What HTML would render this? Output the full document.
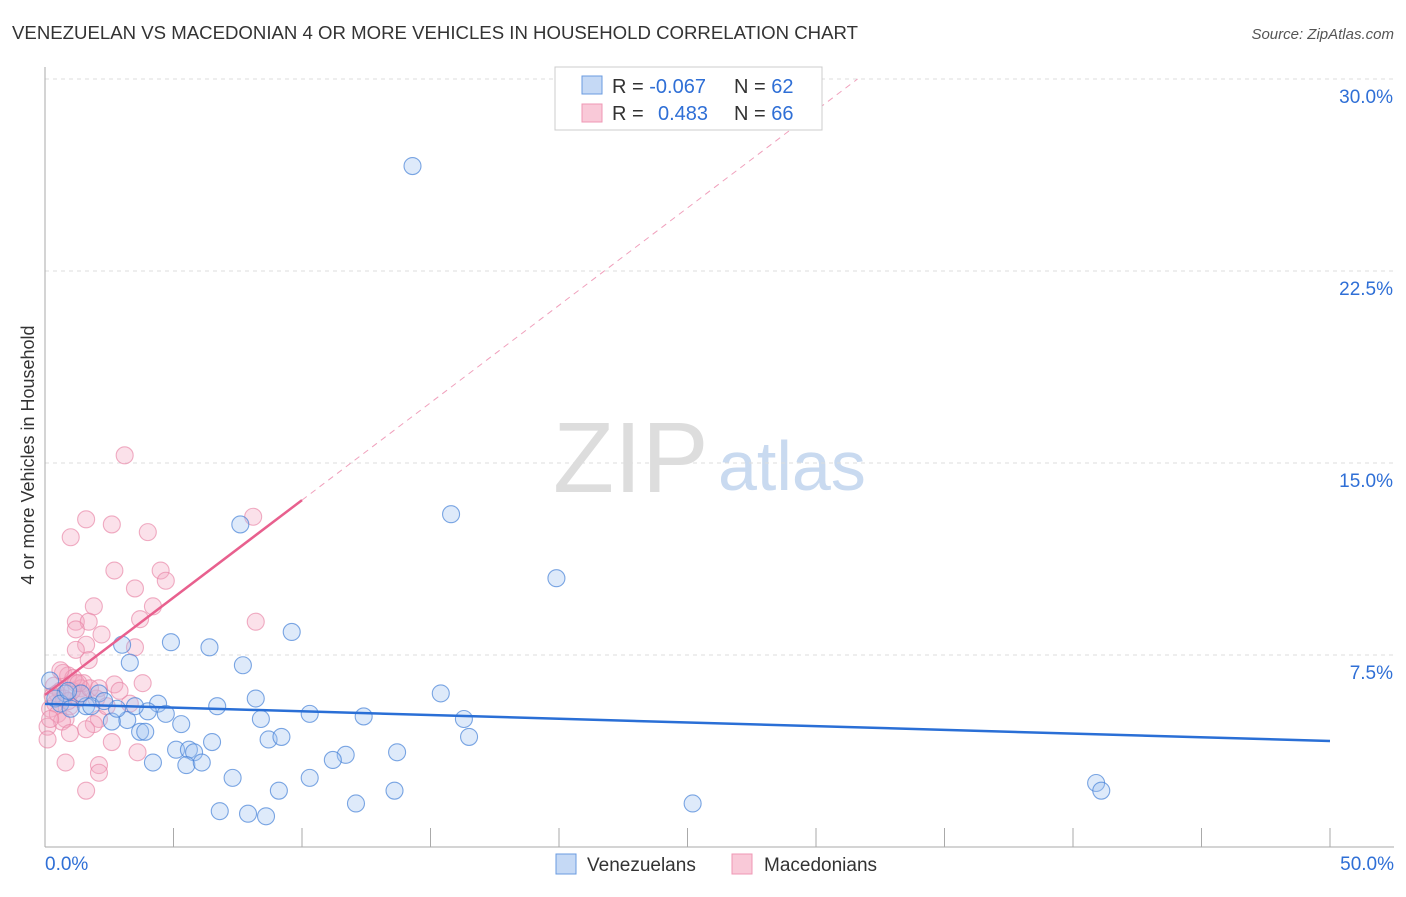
<!DOCTYPE html>
<html><head><meta charset="utf-8"><style>
body{margin:0;background:#fff;font-family:"Liberation Sans",sans-serif;}
svg text{font-family:"Liberation Sans",sans-serif;}
</style></head><body>
<svg id="chart" width="1406" height="892">
<text x="12" y="39" font-size="18" fill="#333" textLength="846" lengthAdjust="spacingAndGlyphs">VENEZUELAN VS MACEDONIAN 4 OR MORE VEHICLES IN HOUSEHOLD CORRELATION CHART</text>
<text x="1394" y="39" font-size="15" fill="#555" font-style="italic" text-anchor="end">Source: ZipAtlas.com</text>
<g><text x="553" y="492" font-size="100" fill="#ddd" font-family="Liberation Serif">ZIP</text><text x="718" y="490" font-size="70" fill="#c9daf0">atlas</text></g>
<g id="grid"></g><g id="axes"></g><g id="pts"></g><g id="lines"></g>
<text transform="translate(34,455) rotate(-90)" font-size="18" fill="#333" text-anchor="middle">4 or more Vehicles in Household</text>
<g>
<rect x="555" y="67" width="267" height="63" fill="#fff" stroke="#ccc"/>
<rect x="582" y="76" width="20" height="18" fill="#c5d9f5" stroke="#6a9be0"/>
<rect x="582" y="104" width="20" height="18" fill="#f9c9d8" stroke="#ef97b4"/>
<text x="612" y="93" font-size="20" fill="#333">R = <tspan fill="#2f6fd6">-0.067</tspan><tspan x="734">N = </tspan><tspan fill="#2f6fd6">62</tspan></text>
<text x="612" y="120" font-size="20" fill="#333">R = <tspan x="658" fill="#2f6fd6">0.483</tspan><tspan x="734">N = </tspan><tspan fill="#2f6fd6">66</tspan></text>
</g>
<g>
<rect x="556" y="854" width="20" height="20" fill="#c5d9f5" stroke="#6a9be0"/>
<text x="587" y="871" font-size="19" fill="#333">Venezuelans</text>
<rect x="732" y="854" width="20" height="20" fill="#f9c9d8" stroke="#ef97b4"/>
<text x="764" y="871" font-size="19" fill="#333">Macedonians</text>
</g>
</svg>
<script>
const yTicks=[7.5,15,22.5,30];
const yTickLabels=["7.5%","15.0%","22.5%","30.0%"];
const xTickLabels=["0.0%","50.0%"];
const venX=[14.3,15.8,19.9,7.6,9.6,4.9,6.4,3.0,3.3,7.7,15.4,2.1,4.4,6.7,8.2,10.3,12.4,16.3,8.4,4.7,4.0,3.2,2.6,5.3,3.7,3.9,16.5,6.5,8.7,9.2,5.1,5.6,5.8,11.7,13.7,11.2,4.2,5.5,6.1,7.3,10.3,9.1,13.6,12.1,6.8,7.9,8.6,25.2,40.9,41.1,0.8,0.4,0.6,1.0,1.6,0.2,1.4,1.8,2.8,3.5,2.3,0.9];
const venY=[26.6,13.0,10.5,12.6,8.4,8.0,7.8,7.9,7.2,7.1,6.0,6.0,5.6,5.5,5.8,5.2,5.1,5.0,5.0,5.2,5.3,4.96,4.9,4.8,4.5,4.5,4.3,4.1,4.2,4.3,3.8,3.8,3.7,3.6,3.7,3.4,3.3,3.2,3.3,2.7,2.7,2.2,2.2,1.7,1.4,1.3,1.2,1.7,2.5,2.2,6.0,5.8,5.6,5.4,5.5,6.5,6.0,5.5,5.4,5.5,5.7,6.1];
const macX=[3.1,1.6,2.6,4.0,1.0,8.1,2.7,4.5,4.7,3.5,1.9,4.2,3.7,1.2,1.7,1.2,8.2,2.2,1.6,3.5,1.2,1.7,0.7,0.9,1.5,2.7,3.8,0.35,0.6,1.2,1.4,2.0,0.4,0.97,3.3,0.2,0.5,0.8,0.66,0.1,2.1,1.9,0.97,2.6,0.1,3.6,0.8,2.1,2.1,1.6,0.47,0.74,1.3,1.4,1.05,1.75,0.3,0.9,2.1,2.9,1.1,0.2,1.3,0.6,2.4,1.6];
const macY=[15.3,12.8,12.6,12.3,12.1,12.9,10.8,10.8,10.4,10.1,9.4,9.4,8.9,8.8,8.8,8.5,8.8,8.3,7.9,7.8,7.7,7.3,6.8,6.7,6.4,6.35,6.4,6.3,6.1,6.4,6.2,5.8,5.6,5.5,5.6,5.4,5.2,5.0,4.9,4.7,5.0,4.8,4.45,4.1,4.2,3.7,3.3,3.2,2.9,2.2,6.0,5.8,5.8,6.0,6.1,6.2,5.9,5.7,6.2,6.1,6.6,5.0,6.4,6.9,5.5,4.6];
const venLine=[5.59,4.14];
const macLine=[5.94,13.55];
const X=v=>45+v*25.7, Y=v=>847-v*25.6;
const NS="http://www.w3.org/2000/svg";
function mk(tag,parent,attrs){const e=document.createElementNS(NS,tag);for(const k in attrs)e.setAttribute(k,attrs[k]);document.getElementById(parent).appendChild(e);return e;}
yTicks.forEach((t,i)=>{
 const g=mk('line','grid',{x1:45,x2:1394,y1:Y(t),y2:Y(t),stroke:'#ddd','stroke-dasharray':'4,4'});
 
 
 const l=mk('text','axes',{x:1393,y:Y(t)+24,'font-size':19,fill:'#2f6fd6','text-anchor':'end'});l.textContent=yTickLabels[i];
 
 
});
const ax=mk('line','axes',{x1:45,x2:45,y1:67,y2:847,stroke:'#aaa'});


const bx=mk('line','axes',{x1:45,x2:1394,y1:847,y2:847,stroke:'#aaa'});


for(let i=0;i<=10;i++){const t=mk('line','axes',{x1:X(i*5),x2:X(i*5),y1:828,y2:847,stroke:'#aaa'});
 
 }
[[0,'start',45],[50,'end',1394]].forEach((d,i)=>{const t=mk('text','axes',{x:d[2],y:870,'font-size':19,fill:'#2f6fd6','text-anchor':d[1]});t.textContent=xTickLabels[i];
 
 });
macX.forEach((x,i)=>{const c=mk('circle','pts',{cx:X(x),cy:Y(macY[i]),r:8.5,fill:'rgba(244,170,196,0.35)',stroke:'rgba(232,130,165,0.65)','stroke-width':1.1});
 
 });
venX.forEach((x,i)=>{const c=mk('circle','pts',{cx:X(x),cy:Y(venY[i]),r:8.5,fill:'rgba(160,196,240,0.35)',stroke:'rgba(70,130,215,0.7)','stroke-width':1.1});
 
 });
const vl=mk('line','lines',{x1:X(0),y1:Y(venLine[0]),x2:X(50),y2:Y(venLine[1]),stroke:'#2a6fd6','stroke-width':2.5});


const slope=(macLine[1]-macLine[0])/10, xEnd=(30-macLine[0])/slope;
const md=mk('line','lines',{x1:X(10),y1:Y(macLine[1]),x2:X(xEnd),y2:Y(macLine[0]+slope*xEnd),stroke:'#f0a0bc','stroke-width':1,'stroke-dasharray':'6,5'});


const ml=mk('line','lines',{x1:X(0),y1:Y(macLine[0]),x2:X(10),y2:Y(macLine[1]),stroke:'#e8608e','stroke-width':2.5});


</script>
</body></html>
